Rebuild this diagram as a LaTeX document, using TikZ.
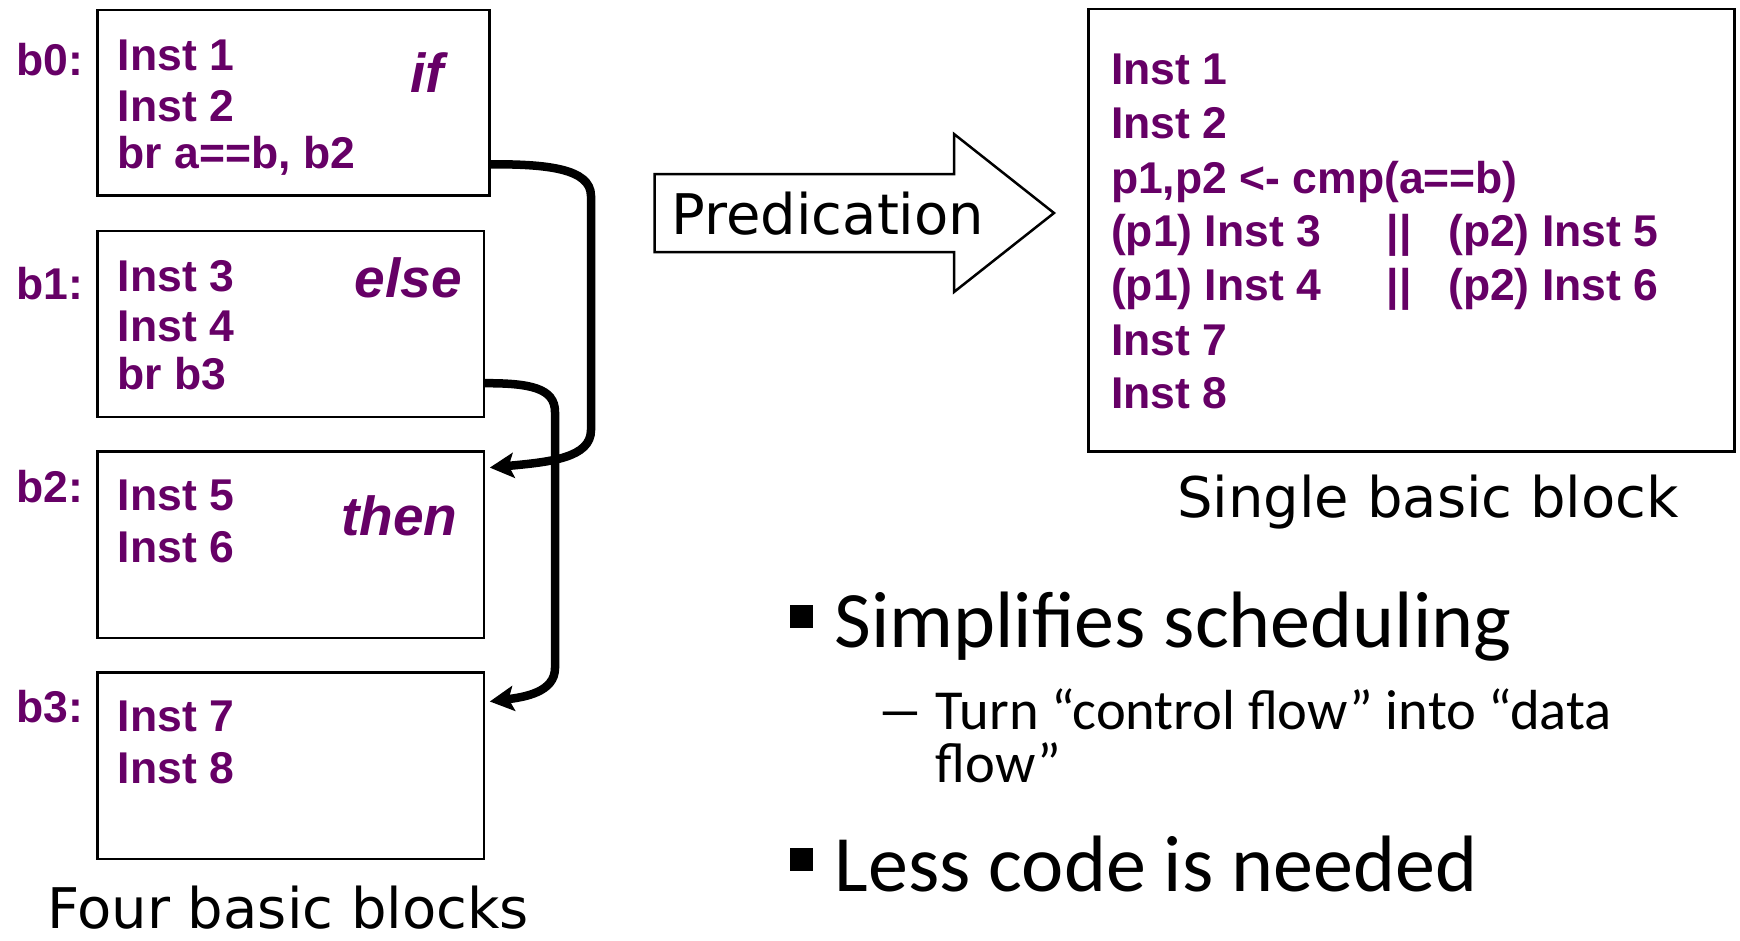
\documentclass[tikz,border=0pt]{standalone}
\usepackage{fontspec}
\setmainfont{Liberation Sans}
\newfontfamily\dejavu{DejaVu Sans}
\newfontfamily\calib{Carlito}
\usetikzlibrary{arrows.meta}
\definecolor{pur}{RGB}{102,0,102}
\begin{document}
\begin{tikzpicture}[x=1pt,y=-1pt,
  blk/.style={draw=black, line width=2.5pt, anchor=north west, inner sep=0, outer sep=0},
  inst/.style={anchor=base west, inner sep=0, text=pur, font=\fontsize{44.5}{44.5}\selectfont\bfseries},
  kw/.style={anchor=base east, inner sep=0, text=pur, font=\fontsize{55}{55}\selectfont\bfseries\itshape},
  captxt/.style={anchor=base west, inner sep=0, font=\dejavu\fontsize{56}{56}\selectfont},
  bul/.style={anchor=base west, inner sep=0, font=\calib\fontsize{80}{80}\selectfont},
  subtxt/.style={anchor=base west, inner sep=0, font=\calib\fontsize{56.5}{56.5}\selectfont},
  sq/.style={fill=black, anchor=north west, inner sep=0, outer sep=0, minimum width=23pt, minimum height=23pt},
  conn/.style={line width=8.5pt, -{Stealth[length=24pt,width=25pt,inset=5pt]}}
]
\useasboundingbox (0,0) rectangle (1740,940);

% four basic blocks
\node[blk, minimum width=391.7pt, minimum height=185.3pt] (b0) at (97.7,10) {};
\node[blk, minimum width=386.1pt, minimum height=186.4pt] (b1) at (97.7,230.8) {};
\node[blk, minimum width=386.1pt, minimum height=186.4pt] (b2) at (97.7,451.6) {};
\node[blk, minimum width=386.1pt, minimum height=186.4pt] (b3) at (97.7,672.5) {};

\node[inst] (lb0) at (16.6,75.5) {b0:};
\node[inst] (lb1) at (16.6,299.6) {b1:};
\node[inst] (lb2) at (16.6,502.7) {b2:};
\node[inst] (lb3) at (16.6,722.4) {b3:};

\node[inst] (i01) at (117.6,70) {Inst 1};
\node[inst] (i02) at (117.6,121) {Inst 2};
\node[inst] (i03) at (117.6,168.7) {br a==b, b2};
\node[kw] (kif) at (444,92) {if};

\node[inst] (i11) at (117.6,291.8) {Inst 3};
\node[inst] (i12) at (117.6,341.8) {Inst 4};
\node[inst] (i13) at (117.6,389.5) {br b3};
\node[kw] (kelse) at (462,297.4) {else};

\node[inst] (i21) at (117.6,510.5) {Inst 5};
\node[inst] (i22) at (117.6,562.6) {Inst 6};
\node[kw] (kthen) at (457.5,535) {then};

\node[inst] (i31) at (117.6,731.3) {Inst 7};
\node[inst] (i32) at (117.6,783.5) {Inst 8};

\node[captxt] (four) at (47,928) {Four basic blocks};

% branch connectors
\coordinate (s1) at ([yshift=31pt]b0.south east);
\coordinate (e1) at ([xshift=6pt,yshift=-16pt]b2.north east);
\coordinate (s2) at ([yshift=34pt]b1.south east);
\coordinate (e2) at ([xshift=6pt,yshift=-29pt]b3.north east);
\draw[conn] (s1) .. controls (545,164) and (591,168) .. (591,196) -- (591,430) .. controls (591,458) and (550,462) .. (e1);
\draw[conn] (s2) .. controls (530,383) and (555,388) .. (555,412) -- (555,668) .. controls (555,692) and (525,697) .. (e2);

% predication arrow
\draw[line width=2.5pt, line join=miter] (654.7,174) -- (954,174) -- (954,134) -- (1054,213) -- (954,292) -- (954,252) -- (654.7,252) -- cycle;
\node[captxt] (pred) at (671.5,234) {Predication};

% single basic block
\node[blk, minimum width=645.9pt, minimum height=442.7pt] (sb) at (1088.6,8.9) {};
\node[inst] (r1) at (1110.8,84.3) {Inst 1};
\node[inst] (r2) at (1110.8,138.7) {Inst 2};
\node[inst] (r3) at (1110.8,193) {p1,p2 <- cmp(a==b)};
\node[inst] (r4a) at (1110.8,246.4) {(p1) Inst 3};
\node[inst, anchor=base] (r4b) at (1399,246.4) {||};
\node[inst] (r4c) at (1448,246.4) {(p2) Inst 5};
\node[inst] (r5a) at (1110.8,300.7) {(p1) Inst 4};
\node[inst, anchor=base] (r5b) at (1399,300.7) {||};
\node[inst] (r5c) at (1448,300.7) {(p2) Inst 6};
\node[inst] (r6) at (1110.8,355) {Inst 7};
\node[inst] (r7) at (1110.8,408.4) {Inst 8};
\node[captxt] (single) at (1177,517) {Single basic block};

% bullets
\node[sq] (sq1) at (789.5,605) {};
\node[bul] (t1) at (834.5,647) {Simplifies scheduling};
\node[subtxt] (dash) at (876,729) {\scalebox{1.7}[1]{–}};
\node[subtxt] (t2) at (935.5,729) {Turn “control flow” into “data};
\node[subtxt] (t3) at (935.5,782.5) {flow”};
\node[sq] (sq2) at (789.5,848) {};
\node[bul] (t4) at (834.5,891) {Less code is needed};
\end{tikzpicture}
\end{document}
